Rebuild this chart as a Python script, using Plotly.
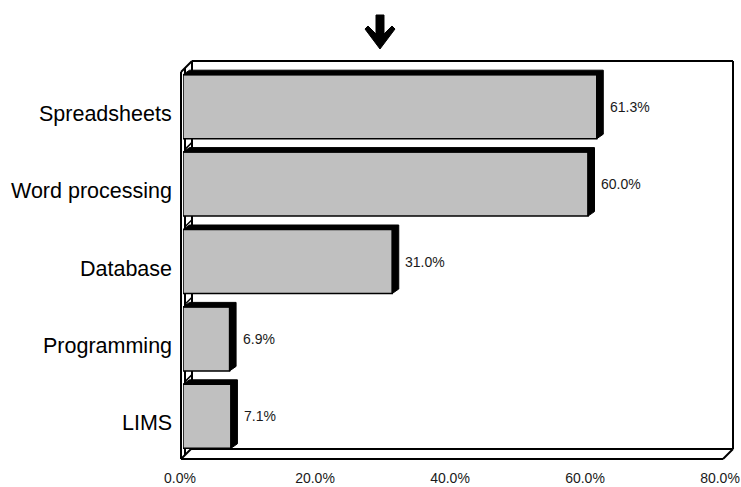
import plotly.graph_objects as go

# Share of respondents using each kind of software
categories = ["Spreadsheets", "Word processing", "Database", "Programming", "LIMS"]
shares = [61.3, 60.0, 31.0, 6.9, 7.1]
x_ticks = [0, 20, 40, 60, 80]
x_tick_labels = ["0.0%", "20.0%", "40.0%", "60.0%", "80.0%"]

# Canvas and plot-area geometry (pixels)
W, H = 741, 487
ML, MR, MT, MB = 183, 18, 68, 32
PW = W - ML - MR
PH = H - MT - MB
X_MAX = 80
N = len(categories)
positions = list(range(N))

px_per_x = PW / X_MAX
px_per_y = PH / N

BAR_W = 0.827                  # bar thickness in category units
DEPTH_X = 6.5 / px_per_x       # bar depth, horizontal (data units)
DEPTH_Y = 4.5 / px_per_y       # bar depth, vertical (category units)

FONT = "Liberation Sans, Arial, sans-serif"


def pxx(x):
    return (x - ML) / PW


def pxy(y):
    return (H - MB - y) / PH


fig = go.Figure()

# Dark top/right faces giving each bar its depth
for p, v in zip(positions, shares):
    top = p - BAR_W / 2
    bottom = p + BAR_W / 2
    fig.add_trace(go.Scatter(
        x=[0, DEPTH_X, v + DEPTH_X, v + DEPTH_X, v, v, 0],
        y=[top, top - DEPTH_Y, top - DEPTH_Y, bottom - DEPTH_Y, bottom, top, top],
        mode="lines", fill="toself", fillcolor="black",
        line=dict(color="black", width=1),
        hoverinfo="skip", showlegend=False,
    ))

# Front faces of the bars
fig.add_trace(go.Bar(
    x=shares, y=positions, orientation="h", width=BAR_W,
    marker=dict(color="#c0c0c0", line=dict(color="black", width=1.5)),
    hoverinfo="skip", showlegend=False,
))

annotations = []
for p, v in zip(positions, shares):
    annotations.append(dict(
        x=v, y=p, xref="x", yref="y", text=f"{v:.1f}%",
        showarrow=False, xanchor="left", xshift=11,
        font=dict(family=FONT, size=14, color="#1a1a1a"),
    ))
for p, name in zip(positions, categories):
    annotations.append(dict(
        x=pxx(174), y=p, xref="paper", yref="y", text=name,
        showarrow=False, xanchor="right", yshift=-7,
        font=dict(family=FONT, size=21.5, color="black"),
    ))

# Box walls and floor
box = dict(color="black", width=2)
segments = [
    ((192, 61), (733, 61)),      # back wall top
    ((733, 61), (733, 449)),     # back wall right
    ((192, 61), (192, 449)),     # back wall left
    ((190, 449), (733, 449)),    # back floor edge
    ((181, 459), (723, 459)),    # front floor edge
    ((723, 459), (733, 449)),    # floor right
    ((181, 459), (191, 449)),    # floor left
    ((181, 72), (192, 61)),      # wall top-left
    ((181, 72), (181, 459)),     # wall front edge
    ((185, 68), (185, 455)),     # wall inner edge
]
shapes = []
for (x0, y0), (x1, y1) in segments:
    shapes.append(dict(type="line", xref="paper", yref="paper",
                       x0=pxx(x0), y0=pxy(y0), x1=pxx(x1), y1=pxy(y1),
                       line=box, layer="below"))

# Category separators on the side wall
for k in range(1, N):
    yb = MT + k * px_per_y
    shapes.append(dict(type="line", xref="paper", yref="paper",
                       x0=pxx(185), y0=pxy(yb + 4), x1=pxx(192), y1=pxy(yb - 3),
                       line=dict(color="black", width=1.5), layer="below"))

# Pointer arrow above the chart
cx = 380
arrow_pts = [(cx - 4, 15), (cx + 4, 15), (cx + 4, 34), (cx + 12, 26), (cx + 15, 29),
             (cx, 49), (cx - 15, 29), (cx - 12, 26), (cx - 4, 34)]
path = "M " + " L ".join(f"{pxx(a):.5f},{pxy(b):.5f}" for a, b in arrow_pts) + " Z"
shapes.append(dict(type="path", xref="paper", yref="paper", path=path,
                   fillcolor="black", line=dict(color="black", width=1)))

fig.update_layout(
    width=W, height=H,
    margin=dict(l=ML, r=MR, t=MT, b=MB, pad=0),
    paper_bgcolor="white", plot_bgcolor="rgba(0,0,0,0)",
    barmode="overlay",
    annotations=annotations,
    shapes=shapes,
    xaxis=dict(range=[0, X_MAX], tickvals=x_ticks, ticktext=x_tick_labels,
               showgrid=False, zeroline=False, showline=False, ticks="",
               ticklabelstandoff=13, ticklabelshift=-3, automargin=False,
               tickfont=dict(family=FONT, size=14, color="#1a1a1a"),
               fixedrange=True),
    yaxis=dict(range=[N - 0.5, -0.5], showgrid=False, zeroline=False,
               showline=False, showticklabels=False, ticks="",
               automargin=False, fixedrange=True),
    font=dict(family=FONT),
)

fig.write_html("out.html")
